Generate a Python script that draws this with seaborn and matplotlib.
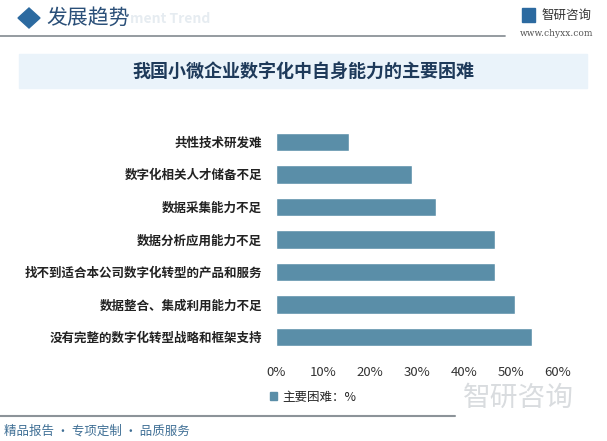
import matplotlib
matplotlib.use("Agg")
import matplotlib.pyplot as plt
import seaborn as sns
import pandas as pd
from matplotlib.patches import Rectangle, Polygon
from matplotlib.lines import Line2D

categories = [
    "共性技术研发难",
    "数字化相关人才储备不足",
    "数据采集能力不足",
    "数据分析应用能力不足",
    "找不到适合本公司数字化转型的产品和服务",
    "数据整合、集成利用能力不足",
    "没有完整的数字化转型战略和框架支持",
]
values = [15.5, 28.9, 34.0, 46.7, 46.6, 50.9, 54.5]
xticks = [0, 10, 20, 30, 40, 50, 60]
xtick_labels = ["0%", "10%", "20%", "30%", "40%", "50%", "60%"]
series_name = "主要困难：%"
chart_title = "我国小微企业数字化中自身能力的主要困难"

sns.set_theme(style="white")
plt.rcParams['font.family'] = ['Noto Sans CJK SC', 'DejaVu Sans']

W, H = 607, 441
fig = plt.figure(figsize=(W / 100, H / 100), dpi=100)
fig.patch.set_facecolor("white")

def fx(x):
    return x / W

def fy(y):
    return 1 - y / H

# Watermark (behind everything)
fig.text(fx(518), fy(398), "智研咨询", fontsize=20, color="#d9dcdf", va="center", ha="center",
         zorder=0)

ax = fig.add_axes([fx(276), fy(353.5), fx(558) - fx(276), fy(125.5) - fy(353.5)])
df = pd.DataFrame({"cat": categories, "val": values})
sns.barplot(data=df, x="val", y="cat", color="#5a8ea8", saturation=1,
            width=0.57, ax=ax)
if ax.get_legend() is not None:
    ax.get_legend().remove()
ax.set_xlim(0, 60)
ax.set_ylim(6.5, -0.5)
ax.set_xticks(xticks)
ax.set_xticklabels(xtick_labels, fontsize=9.5, color="#333333")
ax.set_xlabel("")
ax.set_ylabel("")
ax.tick_params(axis="y", length=0, pad=10, labelsize=9, labelcolor="#222222")
ax.tick_params(axis="x", length=0, pad=9)
for lab in ax.get_yticklabels():
    lab.set_fontweight("bold")
for s in ax.spines.values():
    s.set_visible(False)
ax.set_facecolor("none")

handle = Rectangle((0, 0), 1, 1, color="#5a8ea8")
fig.legend([handle], [series_name], loc="center", bbox_to_anchor=(fx(313), fy(397)),
           frameon=False, fontsize=9, handlelength=0.6, handleheight=0.6,
           handletextpad=0.4)

# Header
fig.add_artist(Polygon([[fx(18), fy(18)], [fx(29), fy(8)], [fx(40), fy(18)], [fx(29), fy(28)]],
                       closed=True, color="#2c6aa0", transform=fig.transFigure))
fig.text(fx(46), fy(18), "发展趋势", fontsize=15, color="#2a4f78", va="center", ha="left")
fig.text(fx(130), fy(19), "ment Trend", fontsize=10, color="#e6ecf1", va="center", ha="left",
         fontweight="bold", zorder=0)
fig.add_artist(Line2D([0, fx(505)], [fy(36), fy(36)], color="#8c9399", lw=1.3))
fig.text(fx(541), fy(15), "智研咨询", fontsize=9, color="#333333", va="center", ha="left")
fig.add_artist(Rectangle((fx(522), fy(22)), fx(13), fy(8) - fy(22), color="#2c6aa0",
                         transform=fig.transFigure))
fig.text(fx(520), fy(34), "www.chyxx.com", fontsize=6.5, color="#555555", va="center", ha="left",
         family="DejaVu Serif")

# Title box
fig.add_artist(Rectangle((fx(19), fy(88)), fx(587) - fx(19), fy(54) - fy(88),
                         color="#eaf3fa", transform=fig.transFigure, zorder=0))
fig.text(fx(303), fy(72), chart_title, fontsize=13, color="#1e3a5a", va="center", ha="center",
         fontweight="bold")

# Footer
fig.add_artist(Line2D([0, fx(455)], [fy(416), fy(416)], color="#8c9399", lw=1.5))
fig.text(fx(4), fy(431), "精品报告 · 专项定制 · 品质服务", fontsize=9, color="#3f6f95",
         va="center", ha="left")

fig.savefig("out.png", dpi=100, facecolor="white")
